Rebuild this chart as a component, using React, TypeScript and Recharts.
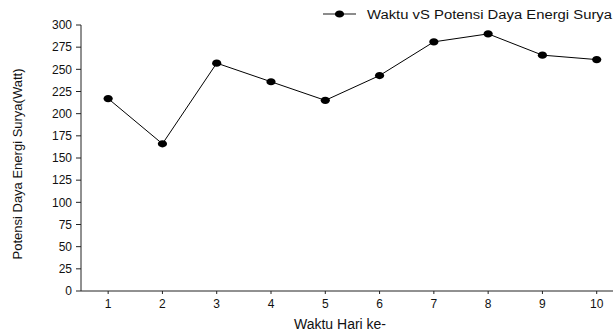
import React from 'react';
import { LineChart, Line, XAxis, YAxis, Legend, Label } from 'recharts';

const days = [1, 2, 3, 4, 5, 6, 7, 8, 9, 10];
const power = [217, 166, 257, 236, 215, 243, 281, 290, 266, 261];
const yTicks = [0, 25, 50, 75, 100, 125, 150, 175, 200, 225, 250, 275, 300];

const seriesName = 'Waktu vS Potensi Daya Energi Surya';
const xTitle = 'Waktu Hari ke-';
const yTitle = 'Potensi Daya Energi Surya(Watt)';

const data = days.map((d, i) => ({ day: d, power: power[i] }));

const FONT = '"Liberation Sans", Arial, sans-serif';
const INK = '#111';

const EllipseDot = (props: any) => {
  const { cx, cy } = props;
  if (cx == null || cy == null) return null;
  return <ellipse cx={cx} cy={cy} rx={4.6} ry={3.6} fill="#000" />;
};

const LegendBox = () => (
  <div style={{ display: 'flex', justifyContent: 'flex-end', height: 20 }}>
    <svg width={290} height={20}>
      <line x1={0} x2={33} y1={9} y2={9} stroke="#666" strokeWidth={1.5} />
      <ellipse cx={16.5} cy={9} rx={4.6} ry={3.6} fill="#000" />
      <text x={44} y={13.5} fontFamily={FONT} fontSize={12} fill={INK} textLength={245} lengthAdjust="spacingAndGlyphs">
        {seriesName}
      </text>
    </svg>
  </div>
);

const YTitle = (props: any) => {
  const vb = props.viewBox;
  const cx = vb.x + 17;
  const cy = vb.y + vb.height / 2 + 6;
  return (
    <text x={cx} y={cy} transform={`rotate(-90 ${cx} ${cy})`} textAnchor="middle" dominantBaseline="central"
      fontFamily={FONT} fontSize={13} fill={INK}>
      {yTitle}
    </text>
  );
};

const XTitle = (props: any) => {
  const vb = props.viewBox;
  const cx = vb.x + vb.width / 2 - 7;
  const cy = vb.y + 38;
  return (
    <text x={cx} y={cy} textAnchor="middle" fontFamily={FONT} fontSize={14} fill={INK}>
      {xTitle}
    </text>
  );
};

export default function App() {
  return (
    <div style={{ position: 'absolute', left: 0, top: 0, width: 613, height: 334, background: '#fff' }}>
      <LineChart width={613} height={334} data={data} margin={{ top: 5, right: 0, left: 0, bottom: 0 }}>
        <Legend verticalAlign="top" align="right" content={<LegendBox />} />
        <XAxis
          dataKey="day"
          type="number"
          domain={[0.5, 10.3]}
          ticks={days}
          height={43}
          stroke="#222"
          tickSize={3}
          tickMargin={5}
          tick={{ fill: INK, fontSize: 12, fontFamily: FONT }}
        >
          <Label content={<XTitle />} />
        </XAxis>
        <YAxis
          type="number"
          domain={[0, 300]}
          ticks={yTicks}
          width={81}
          stroke="#222"
          tickSize={5}
          tickMargin={4}
          interval={0}
          tick={{ fill: INK, fontSize: 12, fontFamily: FONT }}
        >
          <Label content={<YTitle />} />
        </YAxis>
        <Line
          dataKey="power"
          stroke="#000"
          strokeWidth={1}
          dot={<EllipseDot />}
          activeDot={false}
          isAnimationActive={false}
        />
      </LineChart>
    </div>
  );
}
